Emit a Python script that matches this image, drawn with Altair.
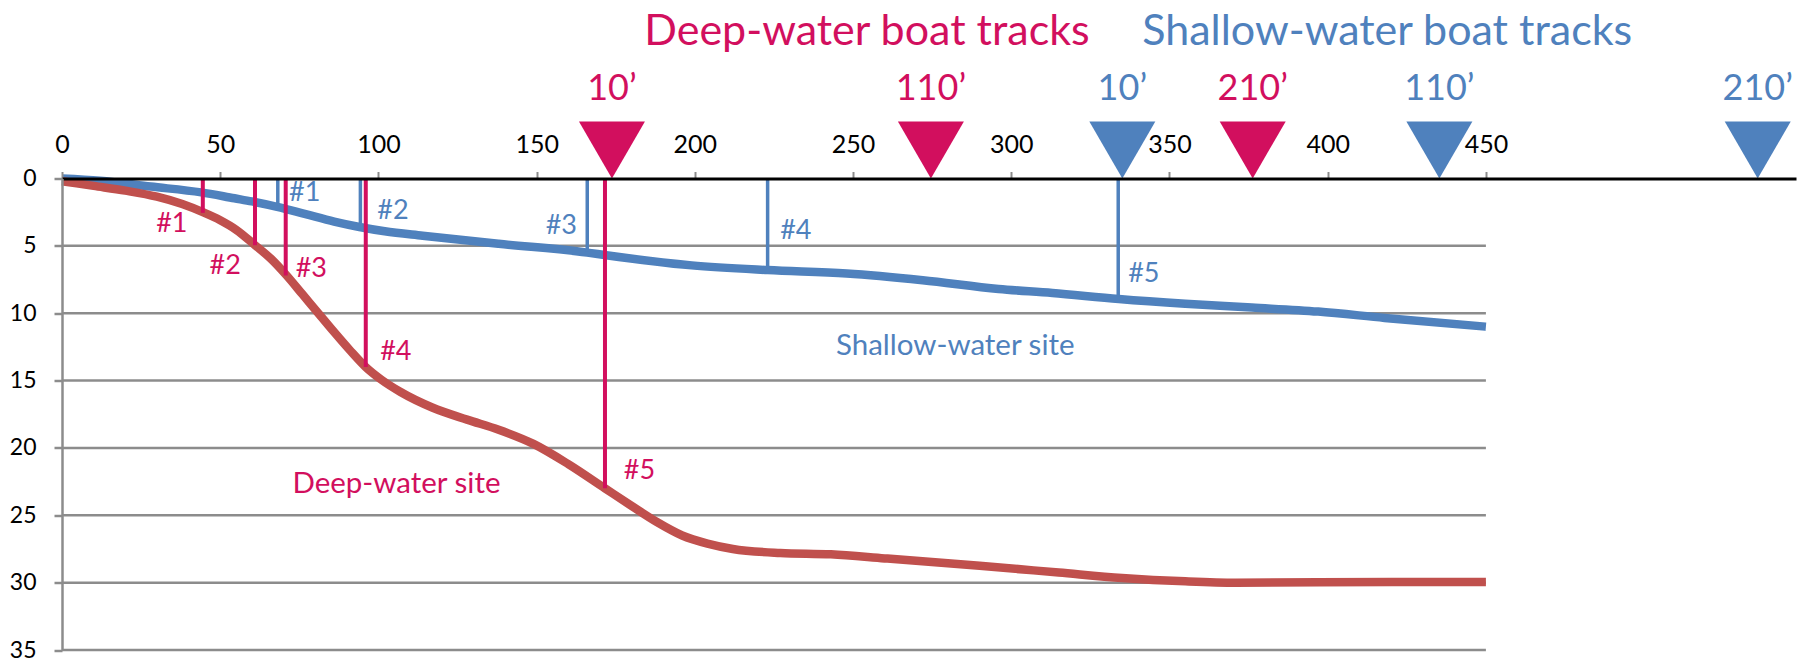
import altair as alt
import pandas as pd

# ---------------- data ----------------
deep_x = [0, 10, 20, 30, 38, 44.5, 50, 55, 61, 66, 71, 76, 81, 86, 91, 96, 101, 107,
          117, 128, 138, 149, 160, 171.6, 180, 188, 196, 204, 212, 227, 243, 260,
          290, 315, 335, 355, 371, 397, 450]
deep_depth = [0.2, 0.55, 0.9, 1.35, 1.9, 2.5, 3.1, 3.8, 4.95, 5.95, 7.2, 8.6, 10.0,
              11.4, 12.75, 14.0, 14.95, 15.85, 17.0, 17.9, 18.65, 19.7, 21.2, 23.0,
              24.3, 25.5, 26.5, 27.1, 27.5, 27.8, 27.9, 28.2, 28.75, 29.25, 29.65,
              29.9, 30.0, 29.97, 29.95]

shallow_x = [0, 12, 28, 44, 54.5, 60, 68, 77, 86, 94, 102, 114, 138, 166, 172, 199,
             223, 248, 272, 296, 313, 334, 355, 376, 397, 418, 450]
shallow_depth = [0, 0.17, 0.6, 1.03, 1.47, 1.7, 2.1, 2.65, 3.2, 3.6, 3.92, 4.25, 4.85,
                 5.5, 5.7, 6.45, 6.8, 7.05, 7.55, 8.2, 8.5, 8.95, 9.3, 9.58, 9.88,
                 10.35, 11.0]

track_names = ["#1", "#2", "#3", "#4", "#5"]
deep_track_x = [44.5, 61, 70.7, 96.0, 171.6]
deep_track_depth = [2.55, 4.95, 7.2, 14.0, 23.0]
deep_label_x = [34.7, 51.6, 78.8, 105.5, 182.5]
deep_label_depth = [3.4, 6.5, 6.7, 12.9, 21.7]

shallow_track_x = [68.2, 94.3, 166, 223, 333.8]
shallow_track_depth = [2.0, 3.45, 5.4, 6.65, 8.75]
shallow_label_x = [76.7, 104.6, 157.8, 231.9, 341.9]
shallow_label_depth = [1.05, 2.4, 3.5, 3.9, 7.1]

marker_times = ["10\u2019", "110\u2019", "210\u2019"]
deep_marker_x = [173.8, 274.6, 376.3]
shallow_marker_x = [335.1, 435.3, 535.9]
marker_label_depth = -6.67

titles = ["Deep-water boat tracks", "Shallow-water boat tracks"]
title_x = [254.4, 418.8]
title_depth = -10.9

site_names = ["Deep-water site", "Shallow-water site"]
site_x = [105.7, 282.3]
site_depth = [22.7, 12.45]

x_ticks = [0, 50, 100, 150, 200, 250, 300, 350, 400, 450]
y_ticks = [0, 5, 10, 15, 20, 25, 30, 35]
x_max = 548

# ---------------- styles ----------------
CRIMSON = "#D20F5E"
BLUE = "#4F81BD"
RED = "#C0504D"
GRAY = "#8C8C8C"
FONT = "Lato"

xs = alt.Scale(domain=[0, x_max], nice=False, zero=False)
ys = alt.Scale(domain=[0, 35], reverse=True, nice=False, zero=False)
x_axis = alt.Axis(orient="top", values=x_ticks, grid=False, domainColor="black",
                  domainWidth=3, tickColor=GRAY, tickWidth=2, tickSize=7,
                  labelFont=FONT, labelFontSize=25, labelColor="black",
                  labelPadding=14, title=None, labelFlush=False,
                  labelOverlap=False, zindex=1)
y_axis = alt.Axis(values=y_ticks, grid=False, domainColor=GRAY, domainWidth=2.5,
                  tickColor=GRAY, tickWidth=2.5, tickSize=8, labelFont=FONT,
                  labelFontSize=23, labelColor="black", labelPadding=18,
                  title=None, zindex=1)


def X(field):
    return alt.X(field, type="quantitative", scale=xs, axis=x_axis)


def Y(field):
    return alt.Y(field, type="quantitative", scale=ys, axis=y_axis)


grid_df = pd.DataFrame({"depth": y_ticks[1:], "x0": x_ticks[0], "x1": x_ticks[-1]})
grid = alt.Chart(grid_df).mark_rule(color=GRAY, strokeWidth=2.5).encode(
    x=X("x0"), x2="x1", y=Y("depth"))

deep_df = pd.DataFrame({"x": deep_x, "depth": deep_depth})
shallow_df = pd.DataFrame({"x": shallow_x, "depth": shallow_depth})
deep_line = alt.Chart(deep_df).mark_line(color=RED, strokeWidth=8.5,
                                         interpolate="monotone").encode(
    x=X("x"), y=Y("depth"))
shallow_line = alt.Chart(shallow_df).mark_line(color=BLUE, strokeWidth=8.5,
                                               interpolate="monotone").encode(
    x=X("x"), y=Y("depth"))

deep_tr = pd.DataFrame({"x": deep_track_x, "top": 0, "depth": deep_track_depth,
                        "lx": deep_label_x, "ld": deep_label_depth,
                        "name": track_names})
shallow_tr = pd.DataFrame({"x": shallow_track_x, "top": 0,
                           "depth": shallow_track_depth, "lx": shallow_label_x,
                           "ld": shallow_label_depth, "name": track_names})

deep_rules = alt.Chart(deep_tr).mark_rule(color=CRIMSON, strokeWidth=4).encode(
    x=X("x"), y=Y("top"), y2="depth")
shallow_rules = alt.Chart(shallow_tr).mark_rule(color=BLUE, strokeWidth=3.5).encode(
    x=X("x"), y=Y("top"), y2="depth")

deep_lbl = alt.Chart(deep_tr).mark_text(color=CRIMSON, font=FONT, fontSize=27,
                                        baseline="middle", align="center").encode(
    x=X("lx"), y=Y("ld"), text="name")
shallow_lbl = alt.Chart(shallow_tr).mark_text(color=BLUE, font=FONT, fontSize=27,
                                              baseline="middle", align="center").encode(
    x=X("lx"), y=Y("ld"), text="name")

site_df = pd.DataFrame({"x": site_x, "depth": site_depth, "name": site_names,
                        "c": [CRIMSON, BLUE]})
sites = alt.Chart(site_df).mark_text(font=FONT, fontSize=29.5, baseline="middle",
                                     align="center").encode(
    x=X("x"), y=Y("depth"), text="name", color=alt.Color("c:N", scale=None))

mk_df = pd.DataFrame({
    "x": deep_marker_x + shallow_marker_x,
    "depth": 0,
    "ld": marker_label_depth,
    "t": marker_times + marker_times,
    "c": [CRIMSON] * 3 + [BLUE] * 3,
})
tri_path = "M-1,-1.73L1,-1.73L0,0Z"
markers = alt.Chart(mk_df).mark_point(shape=tri_path, filled=True, size=4356,
                                      opacity=1, strokeWidth=0).encode(
    x=X("x"), y=Y("depth"), color=alt.Color("c:N", scale=None))
mk_text = alt.Chart(mk_df).mark_text(font=FONT, fontSize=36, baseline="middle",
                                     align="center").encode(
    x=X("x"), y=Y("ld"), text="t", color=alt.Color("c:N", scale=None))

title_df = pd.DataFrame({"x": title_x, "depth": title_depth, "t": titles,
                         "c": [CRIMSON, BLUE]})
title_text = alt.Chart(title_df).mark_text(font=FONT, fontSize=43,
                                           baseline="middle", align="center").encode(
    x=X("x"), y=Y("depth"), text="t", color=alt.Color("c:N", scale=None))

chart = alt.layer(
    grid, shallow_line, deep_line, shallow_rules, deep_rules,
    deep_lbl, shallow_lbl, sites, markers, mk_text, title_text
).properties(
    width=1734, height=471.5,
    autosize=alt.AutoSizeParams(type="none"),
    padding={"left": 54, "top": 170.5, "right": 6, "bottom": 10},
).configure_view(stroke=None)

chart.save("out.html", embed_options={"renderer": "svg", "actions": False})
